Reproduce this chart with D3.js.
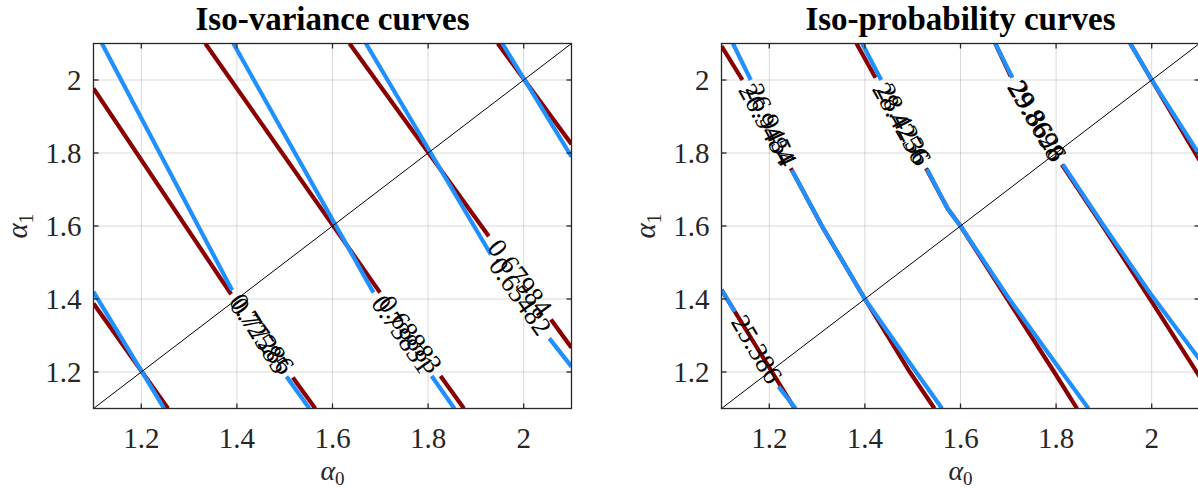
<!DOCTYPE html>
<html><head><meta charset="utf-8">
<script src="https://cdn.jsdelivr.net/npm/d3@7"></script>
<style>body{margin:0;background:#fff;overflow:hidden} svg{display:block}</style>
</head><body>
<svg id="chart" width="1198" height="491"></svg>
<script>
// ---------- data ----------
const xTicks = [1.2, 1.4, 1.6, 1.8, 2];
const yTicks = [1.2, 1.4, 1.6, 1.8, 2];
const xDomain = [1.1, 2.1];
const yDomain = [1.1, 2.1];
const diagonal = [[1.1, 1.1], [2.1, 2.1]];
const titles = ["Iso-variance curves", "Iso-probability curves"];

// each contour = list of polyline pieces, split where the label sits
const varianceRed = [
  [[[1.1, 1.3875], [1.2559, 1.1]]],
  [[[1.1, 1.977], [1.388, 1.413]], [[1.517, 1.185], [1.564, 1.1]]],
  [[[1.334, 2.1], [1.6995, 1.4175]], [[1.826, 1.189], [1.875, 1.1]]],
  [[[1.6356, 2.1], [1.927, 1.572]], [[2.057, 1.344], [2.1, 1.2665]]],
  [[[1.9457, 2.1], [2.1, 1.824]]]
];
const varianceBlue = [
  [[[1.1, 1.4194], [1.2479, 1.1]]],
  [[[1.1176, 2.1], [1.390, 1.424]], [[1.5037, 1.1874], [1.5516, 1.1]]],
  [[[1.3926, 2.1], [1.6859, 1.4175]], [[1.8074, 1.189], [1.855, 1.1]]],
  [[[1.670, 2.1], [1.9313, 1.522]], [[2.0536, 1.292], [2.1, 1.2147]]],
  [[[1.9553, 2.1], [2.1, 1.7897]]]
];
const varianceRedLabels = [null, "0.77286", "0.68883", "0.67984", null];
const varianceBlueLabels = [null, "0.72585", "0.73831", "0.65482", null];

const probabilityRed = [
  [[[1.1, 1.425], [1.175, 1.265], [1.253, 1.1]]],
  [[[1.1, 2.093], [1.1438, 2.0]], [[1.245, 1.758], [1.31, 1.6], [1.4, 1.4], [1.494, 1.2], [1.5455, 1.1]]],
  [[[1.3824, 2.1], [1.4222, 2.006]], [[1.528, 1.758], [1.5733, 1.647], [1.6, 1.6], [1.698, 1.4], [1.796, 1.2], [1.8438, 1.1]]],
  [[[1.6728, 2.1], [1.705, 2.01]], [[1.812, 1.768], [1.9, 1.595], [2.0, 1.393], [2.1, 1.188]]],
  [[[1.955, 2.1], [2.0, 2.0], [2.1, 1.78]]]
];
const probabilityBlue = [
  [[[1.1, 1.4257], [1.1278, 1.365]], [[1.2193, 1.16], [1.2551, 1.1]]],
  [[[1.1239, 2.1], [1.1613, 2.0]], [[1.2472, 1.7533], [1.31, 1.6], [1.4, 1.4], [1.507, 1.2], [1.5614, 1.1]]],
  [[[1.3943, 2.1], [1.4341, 2.0]], [[1.53, 1.756], [1.5733, 1.647], [1.6, 1.6], [1.702, 1.4], [1.812, 1.2], [1.8677, 1.1]]],
  [[[1.6728, 2.1], [1.7086, 2.006]], [[1.8144, 1.768], [1.9, 1.6], [2.0, 1.41], [2.1, 1.235]]],
  [[[1.9552, 2.1], [2.0, 2.0], [2.1, 1.795]]]
];
const probabilityRedLabels = [null, "26.9484", "28.4256", "29.8698", null];
const probabilityBlueLabels = ["25.386", "26.9454", "28.4236", "29.8626", null];

// ---------- drawing ----------
const RED = "#8a0000", BLUE = "#2090ff", AX = "#262626";
const svg = d3.select("#chart");
const panels = [
  {left: 93.5, title: titles[0], red: varianceRed, blue: varianceBlue, redL: varianceRedLabels, blueL: varianceBlueLabels},
  {left: 721.5, title: titles[1], red: probabilityRed, blue: probabilityBlue, redL: probabilityRedLabels, blueL: probabilityBlueLabels}
];
const W = 478, topY = 43.5, H = 365;
const serif = "'Liberation Serif', 'Times New Roman', serif";

panels.forEach((p, i) => {
  const x = d3.scaleLinear().domain(xDomain).range([p.left, p.left + W]);
  const y = d3.scaleLinear().domain(yDomain).range([topY + H, topY]);
  const g = svg.append("g");
  const clipId = "clip" + i;
  svg.append("clipPath").attr("id", clipId).append("rect")
    .attr("x", p.left).attr("y", topY).attr("width", W).attr("height", H);

  // grid
  g.append("g").selectAll("line").data(xTicks).join("line")
    .attr("x1", d => x(d)).attr("x2", d => x(d)).attr("y1", topY).attr("y2", topY + H)
    .attr("stroke", "#000").attr("stroke-opacity", 0.15).attr("stroke-width", 1);
  g.append("g").selectAll("line").data(yTicks).join("line")
    .attr("y1", d => y(d)).attr("y2", d => y(d)).attr("x1", p.left).attr("x2", p.left + W)
    .attr("stroke", "#000").attr("stroke-opacity", 0.15).attr("stroke-width", 1);

  const line = d3.line().x(d => x(d[0])).y(d => y(d[1]));
  const plot = g.append("g").attr("clip-path", `url(#${clipId})`);
  [[p.red, RED], [p.blue, BLUE]].forEach(([contours, col]) => {
    contours.forEach(c => c.forEach(seg => {
      plot.append("path").attr("d", line(seg)).attr("fill", "none")
        .attr("stroke", col).attr("stroke-width", 4.2).attr("stroke-linecap", "butt");
    }));
  });
  plot.append("path").attr("d", line(diagonal)).attr("fill", "none")
    .attr("stroke", "#000").attr("stroke-width", 1);

  // contour labels placed in the gaps
  [[p.red, p.redL], [p.blue, p.blueL]].forEach(([contours, labels]) => {
    contours.forEach((c, k) => {
      if (!labels[k] || c.length < 2) return;
      const a = c[0][c[0].length - 1], b = c[1][0];
      const ax = x(a[0]), ay = y(a[1]), bx = x(b[0]), by = y(b[1]);
      const ang = Math.atan2(by - ay, bx - ax) * 180 / Math.PI;
      const cx = (ax + bx) / 2, cy = (ay + by) / 2;
      plot.append("text").text(labels[k])
        .attr("transform", `translate(${cx},${cy}) rotate(${ang})`)
        .attr("text-anchor", "middle").attr("dy", "0.33em")
        .attr("font-family", serif).attr("font-size", 27).attr("fill", "#000");
    });
  });

  // box + ticks
  g.append("rect").attr("x", p.left).attr("y", topY).attr("width", W).attr("height", H)
    .attr("fill", "none").attr("stroke", AX).attr("stroke-width", 1.3);
  const tl = 5;
  xTicks.forEach(t => {
    g.append("line").attr("x1", x(t)).attr("x2", x(t)).attr("y1", topY + H).attr("y2", topY + H - tl).attr("stroke", AX).attr("stroke-width", 1.3);
    g.append("line").attr("x1", x(t)).attr("x2", x(t)).attr("y1", topY).attr("y2", topY + tl).attr("stroke", AX).attr("stroke-width", 1.3);
  });
  yTicks.forEach(t => {
    g.append("line").attr("y1", y(t)).attr("y2", y(t)).attr("x1", p.left).attr("x2", p.left + tl).attr("stroke", AX).attr("stroke-width", 1.3);
    g.append("line").attr("y1", y(t)).attr("y2", y(t)).attr("x1", p.left + W).attr("x2", p.left + W - tl).attr("stroke", AX).attr("stroke-width", 1.3);
  });

  g.append("g").selectAll("text").data(xTicks).join("text")
    .attr("x", d => x(d)).attr("y", topY + H + 39).attr("text-anchor", "middle")
    .attr("font-family", serif).attr("font-size", 29).attr("fill", AX).text(d => d3.format("~g")(d));
  g.append("g").selectAll("text").data(yTicks).join("text")
    .attr("x", p.left - 12).attr("y", d => y(d)).attr("dy", "0.34em").attr("text-anchor", "end")
    .attr("font-family", serif).attr("font-size", 29).attr("fill", AX).text(d => d3.format("~g")(d));

  // title
  g.append("text").attr("x", p.left + W / 2).attr("y", 30).attr("text-anchor", "middle")
    .attr("font-family", serif).attr("font-weight", "bold").attr("font-size", 33).attr("fill", "#000")
    .text(p.title);

  // axis labels
  const xl = g.append("text").attr("x", p.left + W / 2).attr("y", 480).attr("text-anchor", "middle")
    .attr("font-family", serif).attr("font-size", 28).attr("fill", AX);
  xl.append("tspan").attr("font-style", "italic").text("α");
  xl.append("tspan").attr("font-size", 19).attr("dy", 5).text("0");
  const yl = g.append("text").attr("transform", `translate(${p.left - 67},${topY + H / 2}) rotate(-90)`)
    .attr("text-anchor", "middle").attr("font-family", serif).attr("font-size", 29).attr("fill", AX);
  yl.append("tspan").attr("font-style", "italic").text("α");
  yl.append("tspan").attr("font-size", 20).attr("dy", 6).text("1");
});
</script>
</body></html>
